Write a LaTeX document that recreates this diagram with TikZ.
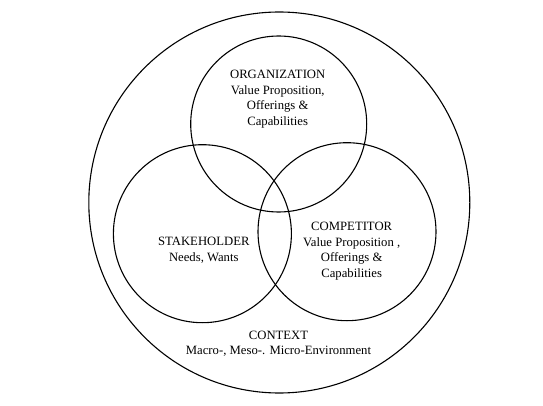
\documentclass[tikz,border=0pt]{standalone}
\usepackage{fontspec}
\setmainfont{Liberation Serif}
\begin{document}
\begin{tikzpicture}[x=1pt,y=-1pt,
  ring/.style={draw=black, line width=1.1pt, circle, inner sep=0pt, minimum size=#1},
  label/.style={align=center, inner sep=0pt, font=\fontsize{12.7pt}{15.7pt}\selectfont}]
\useasboundingbox (0,0) rectangle (543,406);
\node[ring=381pt] (context) at (279.3,202.5) {};
\node[ring=176pt] (org) at (278.7,124) {};
\node[ring=178pt] (stake) at (202.4,233.7) {};
\node[ring=178pt] (comp) at (347,231.7) {};
\node[label] (orgtext) at (277.7,99.1) {ORGANIZATION\\Value Proposition,\\Offerings \&\\Capabilities};
\node[label] (staketext) at (203.8,250.5) {STAKEHOLDER\\Needs, Wants};
\node[label] (comptext) at (351.7,251.2) {COMPETITOR\\Value Proposition ,\\Offerings \&\\Capabilities};
\node[label] (contexttext) at (278.5,343.9) {CONTEXT\\Macro-, Meso-. Micro-Environment};
\end{tikzpicture}
\end{document}
